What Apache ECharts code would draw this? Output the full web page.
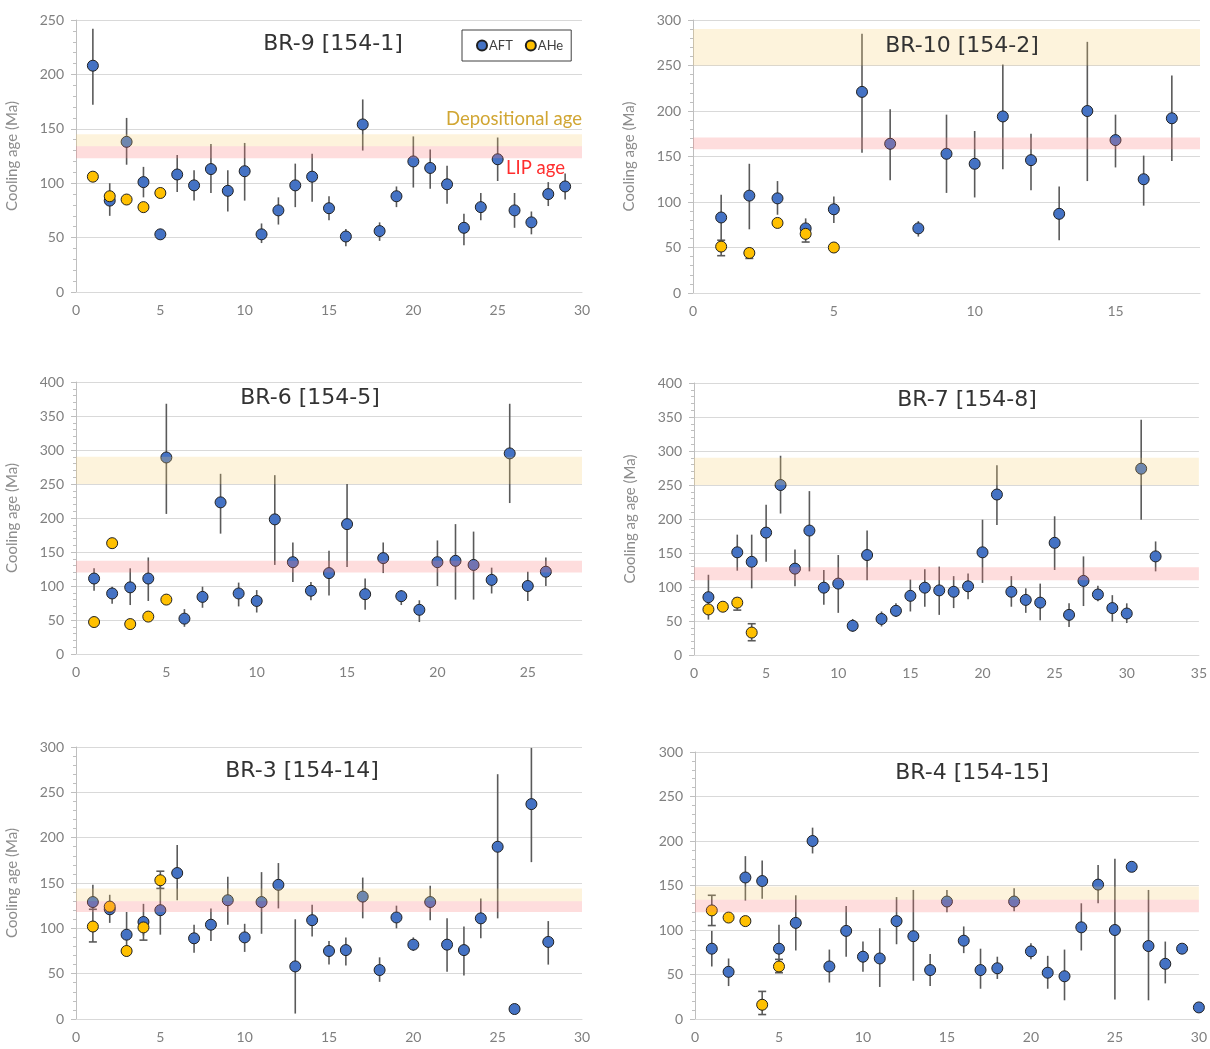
<!DOCTYPE html>
<html>
<head>
<meta charset="utf-8">
<script src="https://cdn.jsdelivr.net/npm/echarts@6/dist/echarts.min.js"></script>
<style>html,body{margin:0;padding:0;background:#fff}#c{width:1210px;height:1049px}</style>
</head>
<body>
<div id="c"></div>
<script>
// ---- data: [x, age, errLow, errHigh] ----
const BR9_AFT = [[1,208,172,242],[2,84,70,100],[3,138,117,160],[4,101,87,115],[5,53,48,58],[6,108,92,126],[7,98,84,112],[8,113,91,136],[9,93,74,112],[10,111,84,137],[11,53,45,63],[12,75,62,87],[13,98,78,118],[14,106,83,127],[15,77,66,88],[16,51,42,58],[17,154,130,177],[18,56,47,64],[19,88,78,97],[20,120,96,143],[21,114,95,131],[22,99,81,116],[23,59,43,72],[24,78,66,91],[25,122,102,142],[26,75,59,91],[27,64,53,74],[28,90,79,101],[29,97,85,109]];
const BR9_AHE = [[1,106,103,109],[2,88,85,91],[3,85,83,87],[4,78,76,80],[5,91,88,94]];

const BR10_AFT = [[1,83,58,108],[2,107,70,142],[3,104,86,123],[4,71,62,82],[5,92,77,106],[6,221,154,285],[7,164,124,202],[8,71,62,79],[9,153,110,196],[10,142,105,178],[11,194,136,251],[12,146,113,175],[13,87,58,117],[14,200,123,276],[15,168,138,196],[16,125,96,151],[17,192,145,239]];
const BR10_AHE = [[1,51,41,58],[2,44,38,48],[3,77,74,80],[4,65,56,70],[5,50,48,52]];

const BR6_AFT = [[1,111,93,126],[2,89,74,99],[3,98,72,126],[4,111,78,142],[5,289,206,368],[6,52,40,66],[7,84,68,99],[8,223,177,265],[9,89,70,105],[10,78,61,94],[11,198,131,263],[12,135,106,164],[13,93,79,106],[14,119,86,152],[15,191,128,250],[16,88,65,111],[17,141,119,164],[18,85,72,94],[19,65,47,79],[20,135,100,167],[21,137,80,191],[22,131,80,180],[23,109,89,127],[24,295,222,368],[25,100,78,121],[26,121,100,142]];
const BR6_AHE = [[1,47,null,null],[2,163,160,166],[3,44,null,null],[4,55,null,null],[5,80,null,null]];

const BR7_AFT = [[1,85,52,118],[3,151,124,177],[4,137,98,177],[5,180,137,221],[6,250,208,293],[7,127,101,155],[8,183,123,241],[9,99,74,125],[10,105,62,147],[11,43,34,53],[12,147,110,183],[13,53,42,64],[14,65,56,76],[15,87,64,111],[16,99,71,126],[17,95,59,130],[18,93,69,116],[19,101,82,120],[20,151,106,199],[21,236,191,279],[22,93,71,116],[23,81,62,98],[24,77,51,105],[25,165,125,204],[26,59,41,76],[27,109,72,145],[28,89,79,102],[29,69,49,88],[30,61,47,76],[31,274,199,346],[32,145,123,167]];
const BR7_AHE = [[1,67,62,72],[2,71,67,75],[3,77,66,83],[4,33,21,46]];

const BR3_AFT = [[1,129,121,148],[2,121,106,137],[3,93,69,118],[4,107,92,127],[5,120,93,148],[6,161,131,192],[7,89,73,104],[8,104,86,122],[9,131,104,157],[10,90,74,105],[11,129,94,162],[12,148,122,172],[13,58,6,110],[14,109,91,126],[15,75,60,86],[16,76,59,90],[17,135,111,156],[18,54,41,68],[19,112,100,125],[20,82,75,90],[21,129,109,147],[22,82,52,111],[23,76,48,102],[24,111,89,133],[25,190,111,270],[26,11,null,null],[27,237,173,299],[28,85,60,108]];
const BR3_AHE = [[1,102,85,121],[2,124,121,127],[3,75,72,78],[4,101,87,105],[5,153,144,163]];

const BR4_AFT = [[1,79,59,99],[2,53,37,68],[3,159,133,183],[4,155,135,178],[5,79,52,106],[6,108,77,139],[7,200,186,215],[8,59,41,78],[9,99,70,127],[10,70,53,87],[11,68,36,102],[12,110,84,137],[13,93,43,145],[14,55,37,73],[15,132,120,145],[16,88,74,104],[17,55,34,79],[18,57,45,70],[19,132,121,147],[20,76,67,85],[21,52,34,71],[22,48,21,78],[23,103,77,130],[24,151,130,173],[25,100,22,180],[26,171,null,null],[27,82,21,145],[28,62,40,87],[29,79,null,null],[30,13,null,null]];
const BR4_AHE = [[1,122,105,139],[2,114,null,null],[3,110,null,null],[4,16,5,31],[5,59,52,67]];

const TITLES = ['BR-9 [154-1]','BR-10 [154-2]','BR-6 [154-5]','BR-7 [154-8]','BR-3 [154-14]','BR-4 [154-15]'];
const X_MAX = [30, 18, 28, 35, 30, 30];
const Y_MAX = [250, 300, 400, 400, 300, 300];
const DEP_BANDS = [[134,145],[250,290],[250,290],[250,290],[130,144],[134,149]];
const LIP_BANDS = [[123,134],[158,171],[120,137],[110,129],[118,130],[120,134]];
const Y_NAMES = ['Cooling age (Ma)','Cooling age (Ma)','Cooling age (Ma)','Cooling ag age (Ma)','Cooling age (Ma)',''];
const AFT = [BR9_AFT, BR10_AFT, BR6_AFT, BR7_AFT, BR3_AFT, BR4_AFT];
const AHE = [BR9_AHE, BR10_AHE, BR6_AHE, BR7_AHE, BR3_AHE, BR4_AHE];

// ---- layout ----
const GRIDS = [
  {left:76, top:20, width:506, height:272},
  {left:693, top:20, width:507, height:273},
  {left:76, top:382, width:506, height:272},
  {left:694, top:383, width:506, height:272},
  {left:76, top:747, width:506, height:272},
  {left:695, top:752, width:507, height:267}
];
const TITLE_POS = [[333,44],[962,46],[310,398],[967,400],[302,771],[972,773]];

const C_AFT = '#4472C4', C_AHE = '#FFC000';
const FONT = 'Lato, "Open Sans", sans-serif';
const TFONT = '"DejaVu Sans", "Open Sans", sans-serif';

const chart = echarts.init(document.getElementById('c'));

const xAxes = [], yAxes = [], series = [], graphics = [];

function errSeries(i, data, caps) {
  return {
    type: 'custom', xAxisIndex: i, yAxisIndex: i, z: 1, silent: true,
    data: data.filter(d => d[2] != null).map(d => [d[0], d[2], d[3]]),
    encode: {x: 0, y: [1, 2]},
    renderItem: function (params, api) {
      const x = api.value(0);
      const p1 = api.coord([x, api.value(1)]);
      const p2 = api.coord([x, api.value(2)]);
      const st = {stroke: '#5a5a5a', lineWidth: 1.6};
      const ch = [{type: 'line', shape: {x1: p1[0], y1: p1[1], x2: p2[0], y2: p2[1]}, style: st}];
      if (caps) {
        ch.push({type: 'line', shape: {x1: p1[0]-4, y1: p1[1], x2: p1[0]+4, y2: p1[1]}, style: st});
        ch.push({type: 'line', shape: {x1: p2[0]-4, y1: p2[1], x2: p2[0]+4, y2: p2[1]}, style: st});
      }
      return {type: 'group', children: ch};
    }
  };
}

for (let i = 0; i < 6; i++) {
  xAxes.push({
    type: 'value', gridIndex: i, min: 0, max: X_MAX[i], interval: 5,
    axisLine: {show: true, lineStyle: {color: '#d9d9d9', width: 1}},
    axisTick: {show: false},
    splitLine: {show: false},
    axisLabel: {color: '#7f7f7f', fontSize: 14, fontFamily: FONT, margin: 11, showMaxLabel: X_MAX[i] % 5 === 0}
  });
  yAxes.push({
    type: 'value', gridIndex: i, min: 0, max: Y_MAX[i], interval: 50,
    name: Y_NAMES[i], nameLocation: 'middle', nameGap: 56, nameRotate: 90,
    nameTextStyle: {color: '#8c8c8c', fontSize: 15, fontFamily: FONT},
    axisLine: {show: true, lineStyle: {color: '#bfbfbf', width: 1}},
    axisTick: {show: true, length: 5, lineStyle: {color: '#bfbfbf'}},
    minorTick: {show: true, splitNumber: 5, length: 3, lineStyle: {color: '#bfbfbf'}},
    splitLine: {show: true, lineStyle: {color: '#d9d9d9', width: 1}},
    axisLabel: {color: '#7f7f7f', fontSize: 14, fontFamily: FONT, margin: 12}
  });

  series.push(errSeries(i, AFT[i], false));
  series.push(errSeries(i, AHE[i], true));
  series.push({
    name: 'AFT', type: 'scatter', xAxisIndex: i, yAxisIndex: i, z: 2,
    symbol: 'circle', symbolSize: 11,
    itemStyle: {color: C_AFT, borderColor: '#1f1f1f', borderWidth: 1, opacity: 1},
    data: AFT[i].map(d => [d[0], d[1]])
  });
  series.push({
    name: 'AHe', type: 'scatter', xAxisIndex: i, yAxisIndex: i, z: 3,
    symbol: 'circle', symbolSize: 11,
    itemStyle: {color: C_AHE, borderColor: '#1f1f1f', borderWidth: 1, opacity: 1},
    data: AHE[i].map(d => [d[0], d[1]])
  });
  series.push({
    type: 'custom', xAxisIndex: i, yAxisIndex: i, z: 5, silent: true,
    data: [[0, DEP_BANDS[i][0], DEP_BANDS[i][1], 0], [0, LIP_BANDS[i][0], LIP_BANDS[i][1], 1]],
    encode: {x: 0, y: [1, 2]},
    renderItem: function (params, api) {
      const cs = params.coordSys;
      const yLo = api.coord([0, api.value(1)])[1];
      const yHi = api.coord([0, api.value(2)])[1];
      const col = api.value(3) === 0 ? 'rgba(248,205,110,0.24)' : 'rgba(250,120,120,0.25)';
      return {type: 'rect', shape: {x: cs.x, y: yHi, width: cs.width, height: yLo - yHi}, style: {fill: col}};
    }
  });

  graphics.push({
    type: 'text', x: TITLE_POS[i][0], y: TITLE_POS[i][1], z: 10,
    style: {text: TITLES[i], textAlign: 'center', textVerticalAlign: 'middle', font: '22px ' + TFONT, fill: '#333333'}
  });
}

graphics.push({type: 'text', x: 582, y: 119, z: 10,
  style: {text: 'Depositional age', textAlign: 'right', textVerticalAlign: 'middle', font: '18.5px ' + FONT, fill: '#d1a633'}});
graphics.push({type: 'text', x: 506, y: 168, z: 10,
  style: {text: 'LIP age', textAlign: 'left', textVerticalAlign: 'middle', font: '18.5px ' + FONT, fill: '#ff2e2e'}});

chart.setOption({
  animation: false,
  textStyle: {fontFamily: FONT},
  grid: GRIDS,
  xAxis: xAxes,
  yAxis: yAxes,
  legend: {
    left: 462, top: 30, orient: 'horizontal',
    borderColor: '#404040', borderWidth: 1, padding: [9, 8, 9, 14],
    itemWidth: 10, itemHeight: 10, itemGap: 12,
    textStyle: {color: '#404040', fontSize: 13, fontFamily: FONT, padding: [0, 0, 0, -3]},
    data: [{name: 'AFT', icon: 'circle'}, {name: 'AHe', icon: 'circle'}]
  },
  series: series,
  graphic: graphics
});
</script>
</body>
</html>
